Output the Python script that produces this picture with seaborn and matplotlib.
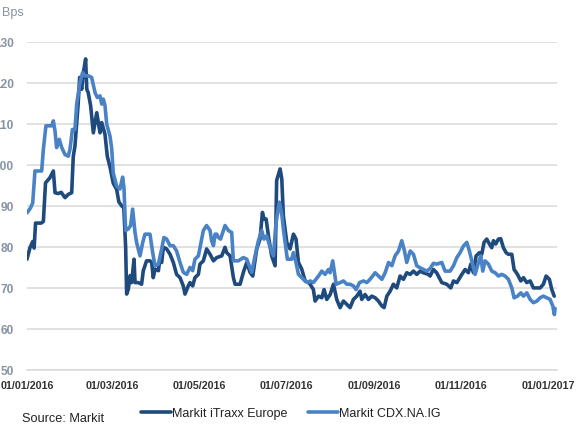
import numpy as np
import pandas as pd
import matplotlib
matplotlib.use('Agg')
import matplotlib.pyplot as plt
import matplotlib.dates as mdates
import seaborn as sns

# values: day offset from 01/01/2016 and spread in bps
itraxx_days = [0, 2, 4, 5, 6, 10, 11.5, 13, 16, 18.5, 19.7, 22, 24, 26.7, 29, 31.4, 32.5, 33.7, 36, 37,
               38.4, 39.6, 41.2, 42, 43, 44.7, 46.6, 49, 51.3, 52.5, 54.8, 56.4, 58.3, 60.6, 63, 64.5, 66.5,
               68, 69.3, 70, 71.2, 72.4, 73.5, 75.2, 75.9, 78.2, 80.5, 81.7, 84, 86.4, 87.6, 88.7, 90, 92.3,
               93.4, 94.6, 95.8, 98.1, 100.5, 102.8, 105.1, 107.5, 109.8, 111, 113.3, 114.5, 116.4, 118,
               120.4, 121.5, 123.9, 126.2, 128.6, 131, 133.3, 136.8, 139.1, 140.3, 142.7, 145, 146.2, 149.7,
               152, 154.4, 156.7, 158.6, 161.4, 163.7, 165.4, 166.5, 168, 169.6, 171.9, 174.3, 175.4, 177.8,
               179, 180.1, 182.5, 184.8, 187.2, 189, 190.7, 193, 195.4, 197.7, 198.9, 201.2, 202.4, 204.8,
               207.1, 208.7, 210.6, 213, 215.3, 217.6, 220, 222.3, 224.7, 227, 229.3, 231.7, 234, 235.2,
               237.5, 239.9, 242.2, 244.6, 246.9, 249.3, 250.9, 252.8, 255.1, 257.4, 259.8, 262.1, 264.5,
               266.8, 269.2, 271.5, 273.8, 276.2, 278.5, 282, 283.2, 285.5, 287.8, 291.4, 294.9, 297.7,
               299.6, 302, 305.5, 307.8, 310.1, 311.8, 313.6, 315.5, 317.9, 319.5, 321.1, 323, 324.9, 326.5,
               327.7, 329.3, 331.2, 332.8, 334.7, 336.6, 338.2, 340.6, 342.2, 344.6, 346.9, 348.8, 351.1,
               353.5, 355.8, 358.2, 360.5, 362.8, 364.7, 367, 368.7, 370.4]
itraxx_vals = [77, 79.7, 81.3, 79.7, 85.8, 85.8, 86.2, 95.6, 96.8, 98.5, 93.2, 93, 93.3, 92, 92.8, 93.2, 102,
               104.6, 115.2, 121.3, 118.4, 122.5, 125.8, 118.4, 117.6, 114.4, 107.8, 112.7, 107.8, 110.3,
               107.4, 102.1, 99.5, 95.5, 94, 91, 90, 89.5, 80, 68.5, 69.7, 73, 71.3, 77, 71.3, 71.3, 70.9,
               74.2, 76.6, 76.6, 76.2, 72.5, 74.6, 74.2, 77, 76.2, 79.9, 79.5, 78.2, 76.2, 73.3, 72.5, 70.5,
               68.5, 70.5, 71.3, 70.5, 72.5, 73.3, 75.8, 76.6, 79.5, 78.2, 76.6, 77.4, 77.8, 79.9, 78.6, 77.8,
               72.5, 70.9, 70.9, 73.8, 76.2, 73.8, 72.9, 79.5, 81.9, 88.4, 86.8, 86.8, 82.7, 77.8, 75.4, 96.2,
               99, 96.6, 87.6, 81.1, 79.5, 83.1, 81.9, 76.2, 74.6, 71.7, 71.3, 70.9, 69.6, 66.8, 68, 67.6,
               69.6, 67.2, 68.4, 70.9, 67.2, 65.2, 66.8, 66, 65.2, 67.2, 68, 69.2, 67.2, 68.4, 67.2, 68, 67.6,
               66.8, 65.6, 65.2, 68, 69.2, 70.9, 70, 72.9, 72.1, 73.7, 73.3, 74.1, 73.3, 74.1, 73.7, 73.3,
               72.9, 74.5, 73.7, 71.3, 70.9, 70, 71.7, 71.3, 73.3, 74.5, 73.7, 75.8, 73.7, 77.8, 78.6, 78.2,
               81.1, 81.9, 80.7, 79.8, 81.5, 80.7, 81.9, 82, 79.8, 78.6, 78.2, 78.2, 74.5, 73.3, 71.7, 72.5,
               71.3, 71.7, 70, 70, 70, 70.9, 72.9, 72.1, 69.6, 68]

cdx_days = [0, 2.5, 4, 5.6, 8, 10.3, 11.5, 13.3, 17.3, 18.5, 19.7, 20.8, 22.7, 24.4, 26.7, 29, 30.2, 31.9,
            33.7, 34.9, 37.2, 39.1, 40.7, 43, 45.4, 47.8, 49.4, 51.3, 52.5, 53.6, 54.8, 56, 58.3, 59.5,
            60.6, 63, 65.3, 67.2, 68.1, 69.3, 71.2, 72.8, 74.2, 75.9, 77, 79.4, 81.3, 82.9, 86.4, 88.3,
            89.9, 92.3, 94.6, 96.2, 98.1, 100.5, 102.8, 105.1, 107.5, 109.8, 112.2, 114.5, 116.4, 118,
            120.4, 122, 123.9, 126.2, 128.6, 129.7, 131, 132.1, 133.3, 134.4, 136, 139.1, 141.5, 143.8,
            145, 148.5, 152, 154.4, 157.9, 160.2, 162.6, 164.9, 166.5, 168.4, 170.8, 173.1, 175, 177.3,
            179, 180.1, 182.9, 185.9, 187.2, 189, 190.7, 193, 195.4, 197.7, 198.9, 201.2, 204.8, 207.1,
            209.4, 211.8, 212.9, 214.8, 217.2, 220, 222.3, 224.7, 227, 229.3, 231.2, 233.6, 236.4, 238.7,
            241, 244.6, 246.9, 249.3, 251.6, 254, 256.3, 258.6, 261, 263.3, 265.2, 266.8, 269.2, 271.5,
            273.8, 276.2, 278.5, 280.9, 283.2, 285.5, 287.8, 291.4, 293.7, 297.3, 299.6, 302, 304.3,
            306.6, 309, 310.8, 312.5, 314.8, 317.2, 318.8, 320.2, 321.8, 324.2, 326.5, 328.9, 331.2,
            333.5, 335.9, 338.2, 340.6, 342.2, 344.6, 346.9, 348.8, 351.1, 353.5, 355.8, 358.2, 360.5,
            362.8, 365.2, 367.5, 369.4, 370.5, 371]
cdx_vals = [88.3, 89.5, 90.7, 98.5, 98.5, 98.5, 103.8, 109.5, 109.5, 110.7, 108.2, 104.2, 106.2, 104.2,
            102.5, 102.1, 103.8, 108.6, 108.6, 114.8, 120, 122.5, 121.7, 121.7, 121.3, 117.6, 116.4, 116.8,
            114.8, 116, 114.4, 109.9, 107, 104, 98, 94.8, 94.1, 97, 94.5, 84, 84.4, 85.2, 89.2, 83.5, 81.1,
            77.8, 81.1, 83.1, 83.1, 78.6, 75.4, 75.8, 79.5, 82.3, 81.9, 80.3, 80.3, 79, 76.2, 73.8, 73.3,
            75, 74.2, 77, 77.8, 80.7, 84, 85.2, 84, 81.5, 80.3, 83.1, 83.1, 82.3, 81.9, 85.2, 84, 83.5,
            76.6, 76.6, 77.4, 77, 73.8, 77.8, 81.5, 84, 81.9, 82.7, 79.9, 77.8, 86, 90.9, 88, 84.4, 77, 77,
            78.6, 76.2, 73.3, 72.5, 71.7, 71.3, 71.7, 71.3, 72.9, 74.1, 73.3, 74.5, 73.7, 76.6, 70.9, 71.3,
            71.7, 70.9, 70.9, 70.5, 69.6, 71.3, 71.7, 71.3, 72.1, 73.7, 72.9, 72.1, 73.7, 76.2, 75.4, 77.8,
            79, 81.5, 79, 76.2, 79, 78.2, 75.4, 74.9, 74.5, 74.1, 74.7, 76, 75.8, 76.2, 74.1, 74.1, 75.4,
            77.4, 78.6, 80.2, 81.1, 79, 76.6, 73.3, 76.2, 77.8, 74.1, 76.6, 75.8, 74.1, 73.7, 72.9, 73.3,
            72.9, 72.1, 70, 67.6, 68, 68.8, 68, 68.8, 67.2, 66.4, 66.8, 67.6, 68, 67.6, 67.2, 65.6, 63.5, 65]

tick_dates = ['2016-01-01', '2016-03-01', '2016-05-01', '2016-07-01', '2016-09-01', '2016-11-01', '2017-01-01']
y_ticks = [50, 60, 70, 80, 90, 100, 110, 120, 130]

start = pd.Timestamp('2016-01-01')
df_itraxx = pd.DataFrame({'Date': start + pd.to_timedelta(itraxx_days, unit='D'), 'Bps': itraxx_vals})
df_cdx = pd.DataFrame({'Date': start + pd.to_timedelta(cdx_days, unit='D'), 'Bps': cdx_vals})

sns.set_style('white')
plt.rcParams['font.family'] = ['Liberation Sans', 'DejaVu Sans']

fig = plt.figure(figsize=(5.8, 4.35), dpi=100)
ax = fig.add_axes([27 / 580, 64 / 435, 529.5 / 580, 328.3 / 435])

dark = '#1F4A7E'
light = '#4A82C6'
sns.lineplot(data=df_itraxx, x='Date', y='Bps', ax=ax, color=dark, lw=2.6, label='Markit iTraxx Europe')
sns.lineplot(data=df_cdx, x='Date', y='Bps', ax=ax, color=light, lw=2.6, label='Markit CDX.NA.IG')

ax.set_ylim(50, 130)
ax.set_xlim(start, start + pd.Timedelta(days=372))
ax.set_yticks(y_ticks)
ax.set_xticks(pd.to_datetime(tick_dates))
ax.xaxis.set_major_formatter(mdates.DateFormatter('%d/%m/%Y'))
ax.grid(axis='y', color='#d9d9d9', lw=1.1)
ax.set_axisbelow(True)
for s in ['top', 'right', 'left']:
    ax.spines[s].set_visible(False)
ax.spines['bottom'].set_color('#d9d9d9')
ax.spines['bottom'].set_linewidth(1.1)
# labels run off the left edge as in the original export
ax.tick_params(axis='y', length=0, pad=9.5, labelsize=8.6, labelcolor='#8593a4')
ax.tick_params(axis='x', length=4, width=1, color='#d9d9d9', direction='out', pad=3,
               labelsize=7.7, labelcolor='#333333')
for t in ax.get_xticklabels() + ax.get_yticklabels():
    t.set_fontweight('bold')
ax.set_xlabel('')
ax.set_ylabel('')

fig.text(2 / 580, 1 - 13 / 435, 'Bps', fontsize=9, color='#8593a4', va='center', ha='left')
fig.text(22 / 580, 16 / 435, 'Source: Markit', fontsize=9.2, color='#222222', va='center', ha='left')

handles, labels = ax.get_legend_handles_labels()
ax.get_legend().remove()
fig.legend(handles, labels, loc='center left', bbox_to_anchor=(136 / 580, 21 / 435), ncol=2,
           frameon=False, fontsize=9, handlelength=2.4, handletextpad=0.1, columnspacing=1.6,
           borderaxespad=0, labelcolor='#222222')

fig.savefig('out.png', dpi=100)
